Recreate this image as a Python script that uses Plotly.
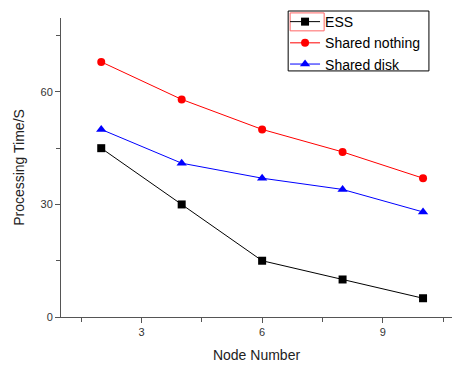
import plotly.graph_objects as go

nodes = [2, 4, 6, 8, 10]
ess = [45, 30, 15, 10, 5]
shared_nothing = [68, 58, 50, 44, 37]
shared_disk = [50, 41, 37, 34, 28]

fig = go.Figure()
fig.add_trace(go.Scatter(x=nodes, y=ess, name="ESS", mode="lines+markers",
                         line=dict(color="#000000", width=1),
                         marker=dict(symbol="square", size=8, color="#000000")))
fig.add_trace(go.Scatter(x=nodes, y=shared_nothing, name="Shared nothing", mode="lines+markers",
                         line=dict(color="#ff0000", width=1),
                         marker=dict(symbol="circle", size=8, color="#ff0000")))
fig.add_trace(go.Scatter(x=nodes, y=shared_disk, name="Shared disk", mode="lines+markers",
                         line=dict(color="#0000ff", width=1),
                         marker=dict(symbol="triangle-up", size=9, color="#0000ff")))

axis_font = dict(family="Liberation Sans, Arial, sans-serif", size=11, color="#333333")
fig.update_layout(
    width=453, height=365,
    margin=dict(l=61, r=1, t=18, b=48),
    paper_bgcolor="white", plot_bgcolor="white",
    font=dict(family="Liberation Sans, Arial, sans-serif", color="#222222"),
    showlegend=True,
    legend=dict(x=0.573, y=1.040, xanchor="left", yanchor="top",
                borderwidth=0, bgcolor="rgba(0,0,0,0)",
                font=dict(size=14, color="#000000"), tracegroupgap=0,
                itemwidth=30),
    shapes=[dict(type="rect", xref="paper", yref="paper",
                 x0=0.581, x1=0.941, y0=0.823, y1=1.0234,
                 line=dict(color="#000000", width=1), fillcolor="rgba(0,0,0,0)", layer="above"),
            dict(type="rect", xref="paper", yref="paper",
                 x0=0.586, x1=0.673, y0=0.957, y1=1.017,
                 line=dict(color="#ff6666", width=1), fillcolor="rgba(0,0,0,0)", layer="above")],
    xaxis=dict(range=[1.0, 10.72], tick0=0, dtick=3, ticks="outside", ticklen=5,
               tickcolor="#555555", showline=True, linecolor="#555555", linewidth=1,
               showgrid=False, zeroline=False, tickfont=axis_font,
               minor=dict(ticks="outside", dtick=1.5, tick0=0, ticklen=4, tickcolor="#555555"),
               title=dict(text="Node Number", font=dict(size=14, color="#222222"), standoff=12)),
    yaxis=dict(range=[0, 79.7], tick0=0, dtick=30, ticks="outside", ticklen=5,
               tickcolor="#555555", showline=True, linecolor="#555555", linewidth=1,
               showgrid=False, zeroline=False, tickfont=axis_font,
               minor=dict(ticks="outside", dtick=15, tick0=0, ticklen=4, tickcolor="#555555"),
               title=dict(text="Processing Time/S", font=dict(size=14, color="#222222"), standoff=12)),
)
fig.write_html("out.html", config={"displayModeBar": False},
               post_script="document.body.style.margin='0';document.body.style.overflow='hidden';")
